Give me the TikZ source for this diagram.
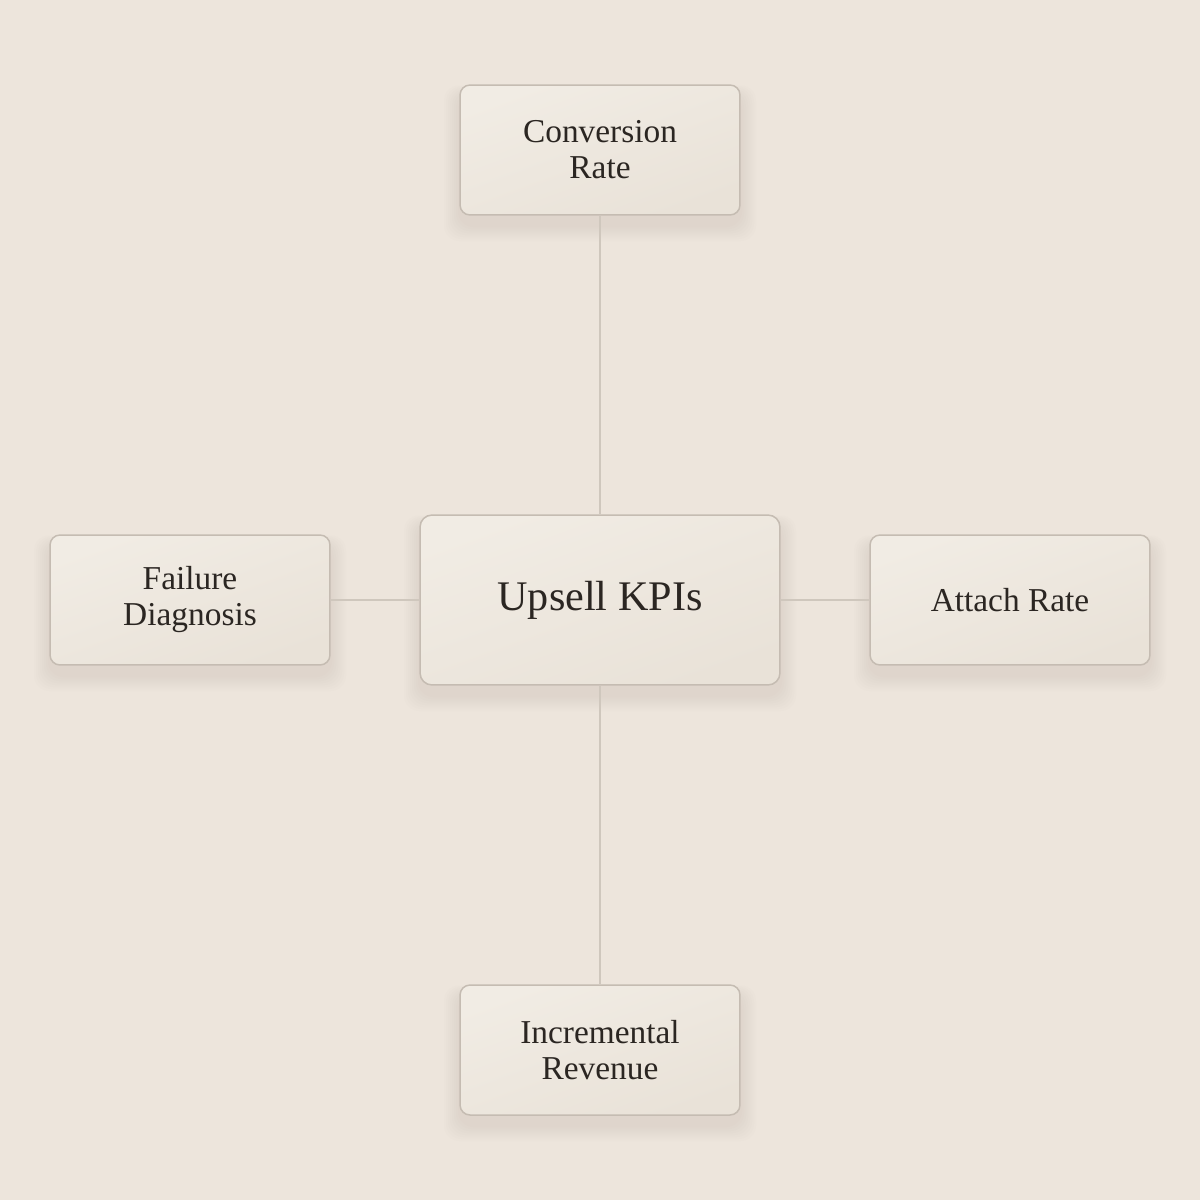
\documentclass[tikz,border=0pt]{standalone}
\usepackage{fontspec}
\setmainfont{Liberation Serif}
\definecolor{bgc}{HTML}{EDE5DC}
\definecolor{boxtop}{HTML}{F1ECE4}
\definecolor{boxbot}{HTML}{E9E2D8}
\definecolor{edgec}{HTML}{C5BCB2}
\definecolor{linec}{HTML}{CFC7BD}
\definecolor{txtc}{HTML}{2B2622}
\definecolor{shc}{HTML}{B8AC9E}
\tikzset{
  px/.style={x=0.02cm,y=-0.02cm},
  kbox/.style={draw=edgec, line width=0.03cm, rounded corners=0.2cm,
    top color=boxtop, bottom color=boxbot, shading angle=20,
    minimum width=5.6cm, minimum height=2.6cm, align=center,
    text=txtc, font=\fontsize{19pt}{20.5pt}\selectfont},
  cbox/.style={kbox, minimum width=7.2cm, minimum height=3.4cm, rounded corners=0.24cm,
    font=\fontsize{24pt}{26pt}\selectfont},
  link/.style={draw=linec, line width=0.03cm}
}
% soft shadow: #1 center, #2 half width, #3 half height (px units)
\newcommand{\softshadow}[3]{%
  \foreach \k in {1,...,8}{%
    \fill[shc, opacity=0.022, rounded corners=0.3cm]
      ($(#1)+(-#2-\k*2,-#3+10-\k*1.2)$) rectangle ($(#1)+(#2+\k*2,#3+10+\k*2)$);
  }%
}
\usetikzlibrary{calc}
\begin{document}
\begin{tikzpicture}[px]
\fill[bgc] (0,0) rectangle (1200,1200);
\useasboundingbox (0,0) rectangle (1200,1200);
\coordinate (pc) at (600,600);
\coordinate (pt) at (600,150);
\coordinate (pl) at (190,600);
\coordinate (pr) at (1010,600);
\coordinate (pb) at (600,1050);
\softshadow{pc}{180}{85}
\softshadow{pt}{140}{65}
\softshadow{pl}{140}{65}
\softshadow{pr}{140}{65}
\softshadow{pb}{140}{65}
\node[cbox] (c) at (pc) {Upsell KPIs};
\node[kbox] (t) at (pt) {Conversion\\Rate};
\node[kbox] (l) at (pl) {Failure\\Diagnosis};
\node[kbox] (r) at (pr) {Attach Rate};
\node[kbox] (b) at (pb) {Incremental\\Revenue};
\path[link] (t) -- (c);
\path[link] (c) -- (b);
\path[link] (l) -- (c);
\path[link] (c) -- (r);
\end{tikzpicture}
\end{document}
